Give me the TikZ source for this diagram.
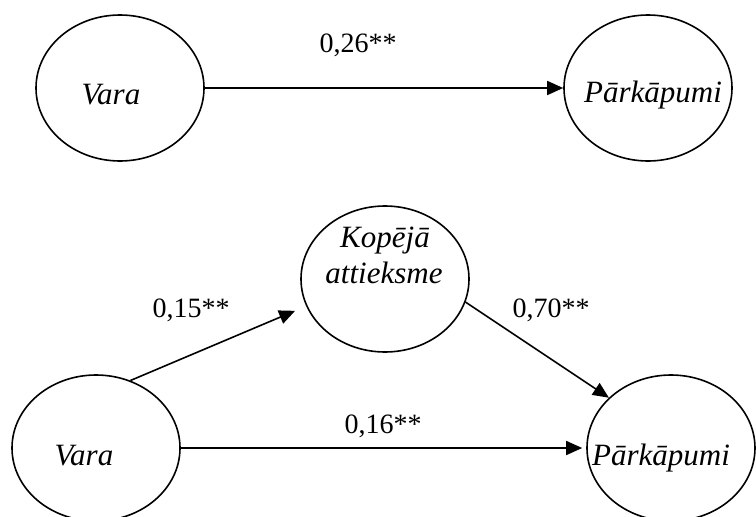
\documentclass[tikz,border=0pt]{standalone}
\usepackage{fontspec}
\setmainfont{Liberation Serif}
\usetikzlibrary{shapes.geometric,arrows.meta}
\tikzset{
  latent/.style={draw, ellipse, line width=1.6pt, inner sep=0pt,
                 minimum width=168pt, minimum height=146pt},
  vname/.style={anchor=base, inner sep=0pt, font=\fontsize{31}{36}\selectfont\itshape},
  coef/.style={anchor=base, inner sep=0pt, font=\fontsize{28}{32}\selectfont},
  path/.style={line width=1.6pt, -{Triangle[length=16pt,width=14pt]}},
}
\begin{document}
\begin{tikzpicture}[x=1pt,y=-1pt]
  \useasboundingbox (0,0) rectangle (756,517);

  % total effect model
  \node[latent] (v1) at (120,88) {};
  \node[latent] (p1) at (648,88) {};
  \node[vname] (v1t) at (111,104) {Vara};
  \node[vname] (p1t) at (653,102) {Pārkāpumi};
  \draw[path] (v1.east) -- (p1.west);
  \node[coef] (c1) at (358,52) {0,26**};

  % mediation model
  \node[latent] (v2) at (96,448) {};
  \node[latent] (k2) at (385,279) {};
  \node[latent] (p2) at (671,448) {};
  \node[vname] (v2t) at (84,465) {Vara};
  \node[vname] (k2a) at (385,247) {Kopējā};
  \node[vname] (k2b) at (384,283) {attieksme};
  \node[vname] (p2t) at (661,465) {Pārkāpumi};

  \draw[path, shorten >=12pt] (v2.63) -- (k2.199);
  \draw[path] (k2.-16) -- (p2.141);
  \draw[path, shorten >=4pt] (v2.east) -- (p2.west);

  \node[coef] (c2) at (191,317) {0,15**};
  \node[coef] (c3) at (551,317) {0,70**};
  \node[coef] (c4) at (383,433) {0,16**};
\end{tikzpicture}
\end{document}
